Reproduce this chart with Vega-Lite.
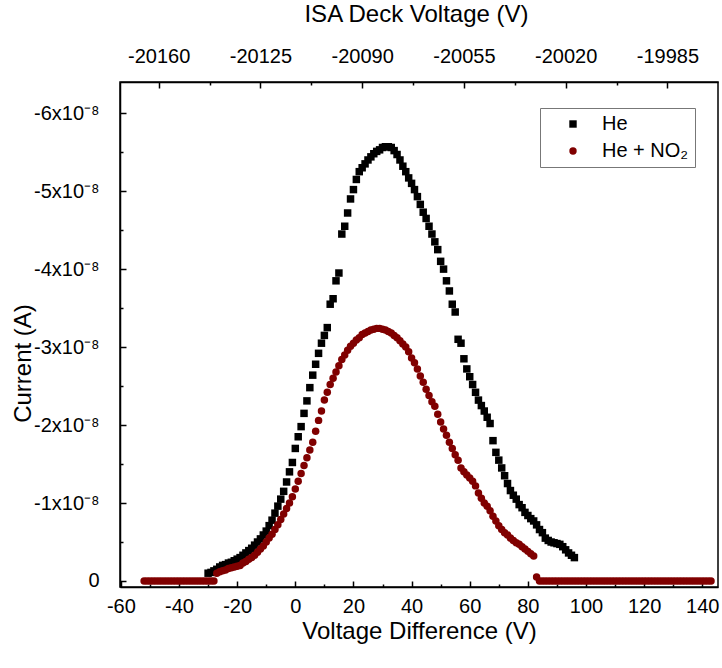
{
  "$schema": "https://vega.github.io/schema/vega-lite/v6.json",
  "width": 598,
  "height": 505,
  "autosize": {"type": "none"},
  "padding": {"left": 120, "top": 82, "right": 4, "bottom": 81},
  "background": "white",
  "config": {
    "font": "Liberation Sans",
    "view": {"stroke": "#000000", "strokeWidth": 1.5},
    "axis": {
      "grid": false,
      "domainColor": "#000000",
      "domainWidth": 1.5,
      "tickColor": "#000000",
      "tickWidth": 1.5,
      "labelFont": "Liberation Sans",
      "labelFontSize": 20,
      "labelColor": "#000000",
      "labelOverlap": false,
      "labelFlush": false,
      "labelBound": false,
      "titleFont": "Liberation Sans",
      "titleFontSize": 24,
      "titleFontWeight": "normal",
      "titleColor": "#000000"
    }
  },
  "datasets": {
    "curves": [
      {"s":"He","v":-30,"i":-0.10e-8},{"s":"He","v":-29,"i":-0.11e-8},{"s":"He","v":-28,"i":-0.13e-8},{"s":"He","v":-27,"i":-0.15e-8},{"s":"He","v":-26,"i":-0.18e-8},
      {"s":"He","v":-25,"i":-0.20e-8},{"s":"He","v":-24,"i":-0.21e-8},{"s":"He","v":-23,"i":-0.23e-8},{"s":"He","v":-22,"i":-0.24e-8},{"s":"He","v":-21,"i":-0.26e-8},
      {"s":"He","v":-20,"i":-0.28e-8},{"s":"He","v":-19,"i":-0.30e-8},{"s":"He","v":-18,"i":-0.33e-8},{"s":"He","v":-17,"i":-0.36e-8},{"s":"He","v":-16,"i":-0.39e-8},
      {"s":"He","v":-15,"i":-0.42e-8},{"s":"He","v":-14,"i":-0.46e-8},{"s":"He","v":-13,"i":-0.50e-8},{"s":"He","v":-12,"i":-0.54e-8},{"s":"He","v":-11,"i":-0.59e-8},
      {"s":"He","v":-10,"i":-0.64e-8},{"s":"He","v":-9,"i":-0.71e-8},{"s":"He","v":-8,"i":-0.78e-8},{"s":"He","v":-7,"i":-0.87e-8},{"s":"He","v":-6,"i":-0.96e-8},
      {"s":"He","v":-5,"i":-1.05e-8},{"s":"He","v":-4,"i":-1.15e-8},{"s":"He","v":-3,"i":-1.27e-8},{"s":"He","v":-2,"i":-1.40e-8},{"s":"He","v":-1,"i":-1.52e-8},
      {"s":"He","v":0,"i":-1.70e-8},{"s":"He","v":1,"i":-1.85e-8},{"s":"He","v":2,"i":-1.98e-8},{"s":"He","v":3,"i":-2.15e-8},{"s":"He","v":4,"i":-2.31e-8},
      {"s":"He","v":5,"i":-2.48e-8},{"s":"He","v":6,"i":-2.64e-8},{"s":"He","v":7,"i":-2.78e-8},{"s":"He","v":8,"i":-2.92e-8},{"s":"He","v":9,"i":-3.05e-8},
      {"s":"He","v":10,"i":-3.15e-8},{"s":"He","v":11,"i":-3.25e-8},{"s":"He","v":12,"i":-3.55e-8},{"s":"He","v":13,"i":-3.62e-8},{"s":"He","v":14,"i":-3.85e-8},
      {"s":"He","v":15,"i":-3.95e-8},{"s":"He","v":16,"i":-4.45e-8},{"s":"He","v":17,"i":-4.55e-8},{"s":"He","v":18,"i":-4.72e-8},{"s":"He","v":19,"i":-4.90e-8},
      {"s":"He","v":20,"i":-5.02e-8},{"s":"He","v":21,"i":-5.15e-8},{"s":"He","v":22,"i":-5.25e-8},{"s":"He","v":23,"i":-5.30e-8},{"s":"He","v":24,"i":-5.35e-8},
      {"s":"He","v":25,"i":-5.40e-8},{"s":"He","v":26,"i":-5.44e-8},{"s":"He","v":27,"i":-5.48e-8},{"s":"He","v":28,"i":-5.51e-8},{"s":"He","v":29,"i":-5.53e-8},
      {"s":"He","v":30,"i":-5.56e-8},{"s":"He","v":31,"i":-5.57e-8},{"s":"He","v":32,"i":-5.57e-8},{"s":"He","v":33,"i":-5.56e-8},{"s":"He","v":34,"i":-5.52e-8},
      {"s":"He","v":35,"i":-5.47e-8},{"s":"He","v":36,"i":-5.40e-8},{"s":"He","v":37,"i":-5.32e-8},{"s":"He","v":38,"i":-5.25e-8},{"s":"He","v":39,"i":-5.17e-8},
      {"s":"He","v":40,"i":-5.10e-8},{"s":"He","v":41,"i":-5.02e-8},{"s":"He","v":42,"i":-4.93e-8},{"s":"He","v":43,"i":-4.83e-8},{"s":"He","v":44,"i":-4.73e-8},
      {"s":"He","v":45,"i":-4.65e-8},{"s":"He","v":46,"i":-4.55e-8},{"s":"He","v":47,"i":-4.45e-8},{"s":"He","v":48,"i":-4.35e-8},{"s":"He","v":49,"i":-4.25e-8},
      {"s":"He","v":50,"i":-4.10e-8},{"s":"He","v":51,"i":-4.00e-8},{"s":"He","v":52,"i":-3.85e-8},{"s":"He","v":53,"i":-3.72e-8},{"s":"He","v":54,"i":-3.55e-8},
      {"s":"He","v":55,"i":-3.45e-8},{"s":"He","v":56,"i":-3.10e-8},{"s":"He","v":57,"i":-3.05e-8},{"s":"He","v":58,"i":-2.85e-8},{"s":"He","v":59,"i":-2.72e-8},
      {"s":"He","v":60,"i":-2.62e-8},{"s":"He","v":61,"i":-2.52e-8},{"s":"He","v":62,"i":-2.42e-8},{"s":"He","v":63,"i":-2.32e-8},{"s":"He","v":64,"i":-2.25e-8},
      {"s":"He","v":65,"i":-2.18e-8},{"s":"He","v":66,"i":-2.10e-8},{"s":"He","v":67,"i":-2.02e-8},{"s":"He","v":68,"i":-1.80e-8},{"s":"He","v":69,"i":-1.65e-8},
      {"s":"He","v":70,"i":-1.55e-8},{"s":"He","v":71,"i":-1.45e-8},{"s":"He","v":72,"i":-1.35e-8},{"s":"He","v":73,"i":-1.25e-8},{"s":"He","v":74,"i":-1.16e-8},
      {"s":"He","v":75,"i":-1.10e-8},{"s":"He","v":76,"i":-1.05e-8},{"s":"He","v":77,"i":-0.98e-8},{"s":"He","v":78,"i":-0.94e-8},{"s":"He","v":79,"i":-0.88e-8},
      {"s":"He","v":80,"i":-0.84e-8},{"s":"He","v":81,"i":-0.80e-8},{"s":"He","v":82,"i":-0.77e-8},{"s":"He","v":83,"i":-0.72e-8},{"s":"He","v":84,"i":-0.66e-8},
      {"s":"He","v":85,"i":-0.62e-8},{"s":"He","v":86,"i":-0.55e-8},{"s":"He","v":87,"i":-0.52e-8},{"s":"He","v":88,"i":-0.50e-8},{"s":"He","v":89,"i":-0.49e-8},
      {"s":"He","v":90,"i":-0.48e-8},{"s":"He","v":91,"i":-0.47e-8},{"s":"He","v":92,"i":-0.44e-8},{"s":"He","v":93,"i":-0.40e-8},{"s":"He","v":94,"i":-0.36e-8},
      {"s":"He","v":95,"i":-0.33e-8},{"s":"He","v":96,"i":-0.30e-8},

      {"s":"He + NO₂","v":-52,"i":0},{"s":"He + NO₂","v":-51,"i":0},{"s":"He + NO₂","v":-50,"i":0},{"s":"He + NO₂","v":-49,"i":0},{"s":"He + NO₂","v":-48,"i":0},
      {"s":"He + NO₂","v":-47,"i":0},{"s":"He + NO₂","v":-46,"i":0},{"s":"He + NO₂","v":-45,"i":0},{"s":"He + NO₂","v":-44,"i":0},{"s":"He + NO₂","v":-43,"i":0},
      {"s":"He + NO₂","v":-42,"i":0},{"s":"He + NO₂","v":-41,"i":0},{"s":"He + NO₂","v":-40,"i":0},{"s":"He + NO₂","v":-39,"i":0},{"s":"He + NO₂","v":-38,"i":0},
      {"s":"He + NO₂","v":-37,"i":0},{"s":"He + NO₂","v":-36,"i":0},{"s":"He + NO₂","v":-35,"i":0},{"s":"He + NO₂","v":-34,"i":0},{"s":"He + NO₂","v":-33,"i":0},
      {"s":"He + NO₂","v":-32,"i":0},{"s":"He + NO₂","v":-31,"i":0},{"s":"He + NO₂","v":-30,"i":0},{"s":"He + NO₂","v":-29,"i":0},{"s":"He + NO₂","v":-28,"i":0},
      {"s":"He + NO₂","v":-27,"i":-0.10e-8},{"s":"He + NO₂","v":-26,"i":-0.12e-8},{"s":"He + NO₂","v":-25,"i":-0.13e-8},{"s":"He + NO₂","v":-24,"i":-0.14e-8},{"s":"He + NO₂","v":-23,"i":-0.16e-8},
      {"s":"He + NO₂","v":-22,"i":-0.17e-8},{"s":"He + NO₂","v":-21,"i":-0.18e-8},{"s":"He + NO₂","v":-20,"i":-0.19e-8},{"s":"He + NO₂","v":-19,"i":-0.20e-8},{"s":"He + NO₂","v":-18,"i":-0.23e-8},
      {"s":"He + NO₂","v":-17,"i":-0.25e-8},{"s":"He + NO₂","v":-16,"i":-0.28e-8},{"s":"He + NO₂","v":-15,"i":-0.30e-8},{"s":"He + NO₂","v":-14,"i":-0.33e-8},{"s":"He + NO₂","v":-13,"i":-0.37e-8},
      {"s":"He + NO₂","v":-12,"i":-0.41e-8},{"s":"He + NO₂","v":-11,"i":-0.45e-8},{"s":"He + NO₂","v":-10,"i":-0.50e-8},{"s":"He + NO₂","v":-9,"i":-0.55e-8},{"s":"He + NO₂","v":-8,"i":-0.60e-8},
      {"s":"He + NO₂","v":-7,"i":-0.66e-8},{"s":"He + NO₂","v":-6,"i":-0.72e-8},{"s":"He + NO₂","v":-5,"i":-0.79e-8},{"s":"He + NO₂","v":-4,"i":-0.86e-8},{"s":"He + NO₂","v":-3,"i":-0.93e-8},
      {"s":"He + NO₂","v":-2,"i":-1.00e-8},{"s":"He + NO₂","v":-1,"i":-1.08e-8},{"s":"He + NO₂","v":0,"i":-1.18e-8},{"s":"He + NO₂","v":1,"i":-1.28e-8},{"s":"He + NO₂","v":2,"i":-1.38e-8},
      {"s":"He + NO₂","v":3,"i":-1.48e-8},{"s":"He + NO₂","v":4,"i":-1.58e-8},{"s":"He + NO₂","v":5,"i":-1.68e-8},{"s":"He + NO₂","v":6,"i":-1.78e-8},{"s":"He + NO₂","v":7,"i":-1.92e-8},
      {"s":"He + NO₂","v":8,"i":-2.06e-8},{"s":"He + NO₂","v":9,"i":-2.18e-8},{"s":"He + NO₂","v":10,"i":-2.32e-8},{"s":"He + NO₂","v":11,"i":-2.42e-8},{"s":"He + NO₂","v":12,"i":-2.52e-8},
      {"s":"He + NO₂","v":13,"i":-2.60e-8},{"s":"He + NO₂","v":14,"i":-2.68e-8},{"s":"He + NO₂","v":15,"i":-2.76e-8},{"s":"He + NO₂","v":16,"i":-2.84e-8},{"s":"He + NO₂","v":17,"i":-2.90e-8},
      {"s":"He + NO₂","v":18,"i":-2.96e-8},{"s":"He + NO₂","v":19,"i":-3.01e-8},{"s":"He + NO₂","v":20,"i":-3.05e-8},{"s":"He + NO₂","v":21,"i":-3.09e-8},{"s":"He + NO₂","v":22,"i":-3.12e-8},
      {"s":"He + NO₂","v":23,"i":-3.16e-8},{"s":"He + NO₂","v":24,"i":-3.18e-8},{"s":"He + NO₂","v":25,"i":-3.20e-8},{"s":"He + NO₂","v":26,"i":-3.22e-8},{"s":"He + NO₂","v":27,"i":-3.23e-8},
      {"s":"He + NO₂","v":28,"i":-3.24e-8},{"s":"He + NO₂","v":29,"i":-3.24e-8},{"s":"He + NO₂","v":30,"i":-3.23e-8},{"s":"He + NO₂","v":31,"i":-3.22e-8},{"s":"He + NO₂","v":32,"i":-3.20e-8},
      {"s":"He + NO₂","v":33,"i":-3.18e-8},{"s":"He + NO₂","v":34,"i":-3.15e-8},{"s":"He + NO₂","v":35,"i":-3.12e-8},{"s":"He + NO₂","v":36,"i":-3.08e-8},{"s":"He + NO₂","v":37,"i":-3.04e-8},
      {"s":"He + NO₂","v":38,"i":-3.00e-8},{"s":"He + NO₂","v":39,"i":-2.94e-8},{"s":"He + NO₂","v":40,"i":-2.86e-8},{"s":"He + NO₂","v":41,"i":-2.80e-8},{"s":"He + NO₂","v":42,"i":-2.72e-8},
      {"s":"He + NO₂","v":43,"i":-2.63e-8},{"s":"He + NO₂","v":44,"i":-2.55e-8},{"s":"He + NO₂","v":45,"i":-2.46e-8},{"s":"He + NO₂","v":46,"i":-2.38e-8},{"s":"He + NO₂","v":47,"i":-2.30e-8},
      {"s":"He + NO₂","v":48,"i":-2.24e-8},{"s":"He + NO₂","v":49,"i":-2.14e-8},{"s":"He + NO₂","v":50,"i":-2.04e-8},{"s":"He + NO₂","v":51,"i":-1.95e-8},{"s":"He + NO₂","v":52,"i":-1.87e-8},
      {"s":"He + NO₂","v":53,"i":-1.78e-8},{"s":"He + NO₂","v":54,"i":-1.70e-8},{"s":"He + NO₂","v":55,"i":-1.62e-8},{"s":"He + NO₂","v":56,"i":-1.55e-8},{"s":"He + NO₂","v":57,"i":-1.45e-8},
      {"s":"He + NO₂","v":58,"i":-1.40e-8},{"s":"He + NO₂","v":59,"i":-1.36e-8},{"s":"He + NO₂","v":60,"i":-1.32e-8},{"s":"He + NO₂","v":61,"i":-1.28e-8},{"s":"He + NO₂","v":62,"i":-1.22e-8},
      {"s":"He + NO₂","v":63,"i":-1.13e-8},{"s":"He + NO₂","v":64,"i":-1.06e-8},{"s":"He + NO₂","v":65,"i":-1.00e-8},{"s":"He + NO₂","v":66,"i":-0.96e-8},{"s":"He + NO₂","v":67,"i":-0.90e-8},
      {"s":"He + NO₂","v":68,"i":-0.83e-8},{"s":"He + NO₂","v":69,"i":-0.77e-8},{"s":"He + NO₂","v":70,"i":-0.71e-8},{"s":"He + NO₂","v":71,"i":-0.66e-8},{"s":"He + NO₂","v":72,"i":-0.62e-8},
      {"s":"He + NO₂","v":73,"i":-0.59e-8},{"s":"He + NO₂","v":74,"i":-0.55e-8},{"s":"He + NO₂","v":75,"i":-0.52e-8},{"s":"He + NO₂","v":76,"i":-0.49e-8},{"s":"He + NO₂","v":77,"i":-0.47e-8},
      {"s":"He + NO₂","v":78,"i":-0.44e-8},{"s":"He + NO₂","v":79,"i":-0.41e-8},{"s":"He + NO₂","v":80,"i":-0.38e-8},{"s":"He + NO₂","v":81,"i":-0.35e-8},{"s":"He + NO₂","v":82,"i":-0.32e-8},
      {"s":"He + NO₂","v":83,"i":-0.05e-8},
      {"s":"He + NO₂","v":84,"i":0},{"s":"He + NO₂","v":85,"i":0},{"s":"He + NO₂","v":86,"i":0},{"s":"He + NO₂","v":87,"i":0},{"s":"He + NO₂","v":88,"i":0},
      {"s":"He + NO₂","v":89,"i":0},{"s":"He + NO₂","v":90,"i":0},{"s":"He + NO₂","v":91,"i":0},{"s":"He + NO₂","v":92,"i":0},{"s":"He + NO₂","v":93,"i":0},
      {"s":"He + NO₂","v":94,"i":0},{"s":"He + NO₂","v":95,"i":0},{"s":"He + NO₂","v":96,"i":0},{"s":"He + NO₂","v":97,"i":0},{"s":"He + NO₂","v":98,"i":0},
      {"s":"He + NO₂","v":99,"i":0},{"s":"He + NO₂","v":100,"i":0},{"s":"He + NO₂","v":101,"i":0},{"s":"He + NO₂","v":102,"i":0},{"s":"He + NO₂","v":103,"i":0},
      {"s":"He + NO₂","v":104,"i":0},{"s":"He + NO₂","v":105,"i":0},{"s":"He + NO₂","v":106,"i":0},{"s":"He + NO₂","v":107,"i":0},{"s":"He + NO₂","v":108,"i":0},
      {"s":"He + NO₂","v":109,"i":0},{"s":"He + NO₂","v":110,"i":0},{"s":"He + NO₂","v":111,"i":0},{"s":"He + NO₂","v":112,"i":0},{"s":"He + NO₂","v":113,"i":0},
      {"s":"He + NO₂","v":114,"i":0},{"s":"He + NO₂","v":115,"i":0},{"s":"He + NO₂","v":116,"i":0},{"s":"He + NO₂","v":117,"i":0},{"s":"He + NO₂","v":118,"i":0},
      {"s":"He + NO₂","v":119,"i":0},{"s":"He + NO₂","v":120,"i":0},{"s":"He + NO₂","v":121,"i":0},{"s":"He + NO₂","v":122,"i":0},{"s":"He + NO₂","v":123,"i":0},
      {"s":"He + NO₂","v":124,"i":0},{"s":"He + NO₂","v":125,"i":0},{"s":"He + NO₂","v":126,"i":0},{"s":"He + NO₂","v":127,"i":0},{"s":"He + NO₂","v":128,"i":0},
      {"s":"He + NO₂","v":129,"i":0},{"s":"He + NO₂","v":130,"i":0},{"s":"He + NO₂","v":131,"i":0},{"s":"He + NO₂","v":132,"i":0},{"s":"He + NO₂","v":133,"i":0},
      {"s":"He + NO₂","v":134,"i":0},{"s":"He + NO₂","v":135,"i":0},{"s":"He + NO₂","v":136,"i":0},{"s":"He + NO₂","v":137,"i":0},{"s":"He + NO₂","v":138,"i":0},
      {"s":"He + NO₂","v":139,"i":0},{"s":"He + NO₂","v":140,"i":0},{"s":"He + NO₂","v":141,"i":0},{"s":"He + NO₂","v":142,"i":0},{"s":"He + NO₂","v":143,"i":0}
    ],
    "deck": [{"d": -20160}]
  },
  "layer": [
    {
      "data": {"name": "curves"},
      "mark": {"type": "point", "filled": true, "opacity": 1, "strokeWidth": 0},
      "encoding": {
        "x": {
          "field": "v", "type": "quantitative",
          "scale": {"domain": [-60.3, 145.4], "nice": false, "zero": false},
          "axis": {
            "orient": "bottom",
            "title": "Voltage Difference (V)",
            "values": [-60,-50,-40,-30,-20,-10,0,10,20,30,40,50,60,70,80,90,100,110,120,130,140],
            "labelExpr": "datum.value % 20 === 0 ? '' + datum.value : ''",
            "tickSize": {"condition": {"test": "datum.value % 20 === 0", "value": -6}, "value": -3},
            "labelPadding": 15,
            "titleBaseline": "middle",
            "titleX": 299,
            "titleY": 44
          }
        },
        "y": {
          "field": "i", "type": "quantitative",
          "scale": {"domain": [-6.40e-8, 0.077e-8], "reverse": true, "nice": false, "zero": false},
          "axis": {
            "title": "Current (A)",
            "values": [0,-0.5e-8,-1e-8,-1.5e-8,-2e-8,-2.5e-8,-3e-8,-3.5e-8,-4e-8,-4.5e-8,-5e-8,-5.5e-8,-6e-8],
            "labelExpr": "abs(round(datum.value*2e8)) % 2 === 0 ? (abs(datum.value) < 1e-12 ? '0' : round(datum.value*1e8) + 'x10⁻⁸') : ''",
            "tickSize": {"condition": {"test": "abs(round(datum.value*2e8)) % 2 === 0", "value": -6}, "value": -3},
            "labelPadding": 27,
            "titleBaseline": "middle",
            "titleX": -97,
            "titleY": 281
          }
        },
        "color": {
          "field": "s", "type": "nominal",
          "scale": {"domain": ["He", "He + NO₂"], "range": ["#000000", "#800000"]},
          "legend": {
            "title": null, "orient": "none", "legendX": 420, "legendY": 26,
            "padding": 6, "strokeColor": "#777777", "fillColor": "white",
            "labelFontSize": 20, "labelFont": "Liberation Sans", "labelColor": "#000000",
            "symbolSize": 55, "symbolOffset": 17, "labelOffset": 19, "rowPadding": 7
          }
        },
        "shape": {
          "field": "s", "type": "nominal",
          "scale": {"domain": ["He", "He + NO₂"], "range": ["square", "circle"]},
          "legend": {
            "title": null, "orient": "none", "legendX": 420, "legendY": 26,
            "padding": 6, "strokeColor": "#777777", "fillColor": "white",
            "labelFontSize": 20, "labelFont": "Liberation Sans", "labelColor": "#000000",
            "symbolSize": 55, "symbolOffset": 17, "labelOffset": 19, "rowPadding": 7
          }
        },
        "size": {"value": 56}
      }
    },
    {
      "data": {"name": "deck"},
      "mark": {"type": "point", "opacity": 0},
      "encoding": {
        "x": {
          "field": "d", "type": "quantitative",
          "scale": {"domain": [-20173.3, -19967.6], "nice": false, "zero": false},
          "axis": {
            "orient": "top",
            "title": "ISA Deck Voltage (V)",
            "values": [-20160,-20142.5,-20125,-20107.5,-20090,-20072.5,-20055,-20037.5,-20020,-20002.5,-19985,-19967.5],
            "labelExpr": "datum.value % 35 === 0 ? '' + datum.value : ''",
            "tickSize": {"condition": {"test": "datum.value % 35 === 0", "value": -6}, "value": -3},
            "labelPadding": 22,
            "titleBaseline": "middle",
            "titleX": 296,
            "titleY": -68
          }
        }
      }
    }
  ],
  "resolve": {"scale": {"x": "independent"}}
}
